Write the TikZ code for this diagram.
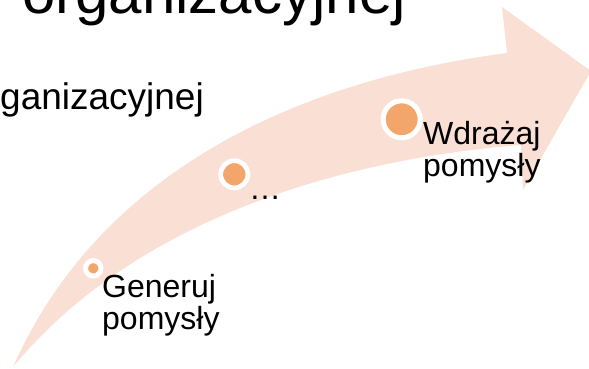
\documentclass[tikz,border=0pt]{standalone}
\usepackage{fontspec}
\setmainfont{Liberation Sans}
\usepackage[HTML]{xcolor}
\usetikzlibrary{positioning}

\definecolor{arrowpink}{HTML}{FAE0D4}
\definecolor{dotorange}{HTML}{F2A66C}

\begin{document}
\begin{tikzpicture}[x=1pt, y=-1pt,
  dot/.style={circle, fill=dotorange, draw=white, line width=5pt, inner sep=0pt},
  lbl/.style={inner sep=0pt, align=left, font=\fontsize{32}{32}\selectfont}]
\useasboundingbox (0,0) rectangle (589,369);

% The curved arrow
\fill[arrowpink] (13,367) .. controls (100,170) and (300,80) .. (507,53)
  -- (502,7) -- (591,71) -- (523,190) -- (521,145)
  .. controls (330,160) and (130,225) .. (13,367) -- cycle;

% Title lines (cut off by the page)
\node[inner sep=0pt, anchor=base east, font=\fontsize{60}{60}\selectfont] (title) at (406,14) {organizacyjnej};
\node[inner sep=0pt, anchor=base west, font=\fontsize{37}{40}\selectfont] (subtitle) at (0,109) {ganizacyjnej};

% Steps on the arrow
\node[dot, minimum size=15.4pt] (d1) at (93.3,268.3) {};
\node[dot, minimum size=27.2pt, line width=4.7pt] (d2) at (234.3,174.3) {};
\node[dot, minimum size=37pt] (d3) at (401.7,119.3) {};

% labels: base is the last line
\node[lbl, anchor=base west] (gen) at (102,329) {Generuj\\pomysły};
\node[lbl, anchor=base west] (mid) at (249,199) {…};
\node[lbl, anchor=base west] (impl) at (423,176.5) {Wdrażaj\\pomysły};
\end{tikzpicture}
\end{document}
